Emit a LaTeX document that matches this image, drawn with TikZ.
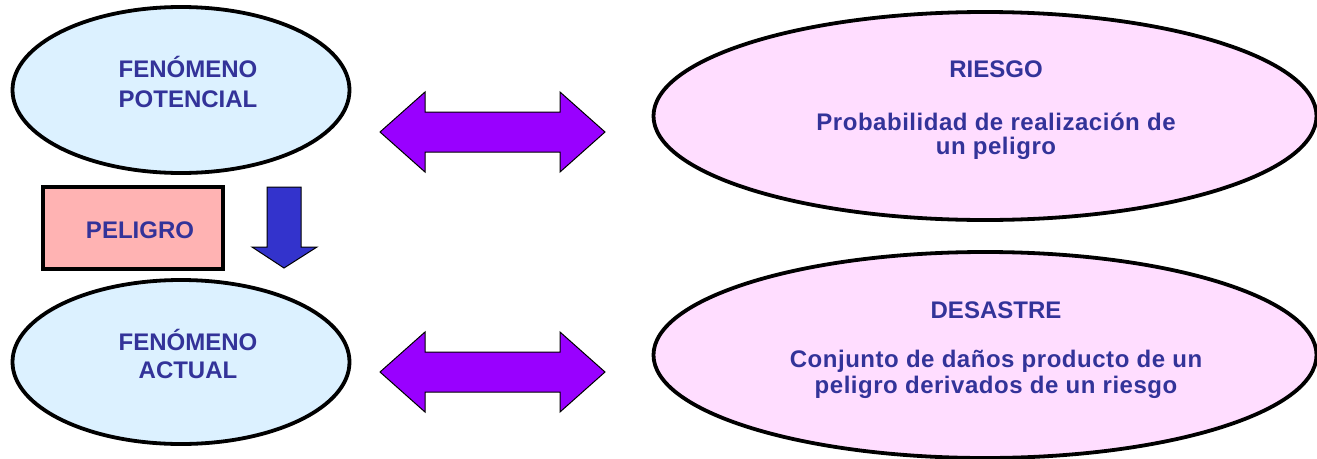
\documentclass[tikz,border=0pt]{standalone}
\usepackage{fontspec}
\setmainfont{Liberation Sans}
\usetikzlibrary{shapes.geometric}
\definecolor{txtblue}{RGB}{51,51,153}
\definecolor{lightblue}{RGB}{220,241,255}
\definecolor{lightpink}{RGB}{255,221,255}
\definecolor{salmon}{RGB}{255,179,179}
\definecolor{purplearrow}{RGB}{153,0,255}
\definecolor{bluearrow}{RGB}{51,51,204}
\tikzset{
  ellbox/.style={ellipse, draw=black, line width=3.8pt, inner sep=0pt},
  lefte/.style={ellbox, fill=lightblue},
  righte/.style={ellbox, fill=lightpink},
  rectbox/.style={draw=black, line width=3.8pt, fill=salmon, inner sep=0pt},
  lbl/.style={anchor=base, inner sep=0pt, text=txtblue, font=\fontsize{24}{29}\selectfont\bfseries},
  sent/.style={lbl, font=\fontsize{24}{29}\selectfont\bfseries\addfontfeature{LetterSpace=2.2}},
  dblarrow/.style={draw=black, line width=1pt, fill=purplearrow, line join=miter},
  downarrow/.style={draw=black, line width=1pt, fill=bluearrow, line join=miter}
}
\begin{document}
\begin{tikzpicture}[x=1pt,y=-1pt]
\useasboundingbox (0,0) rectangle (1317,458);
% ellipses
\node[lefte, minimum width=337pt, minimum height=166pt] (potencial) at (181,90) {};
\node[lefte, minimum width=337pt, minimum height=164pt] (actual) at (181,362) {};
\node[righte, minimum width=663pt, minimum height=208pt] (riesgo) at (985,116) {};
\node[righte, minimum width=663pt, minimum height=206pt] (desastre) at (985,355) {};
% rectangle
\node[rectbox, minimum width=180pt, minimum height=82pt] (peligro) at (133,228) {};
% arrows
\draw[dblarrow] (380,132) -- (425,92) -- (425,112) -- (560,112) -- (560,92) -- (605,132)
  -- (560,172) -- (560,152) -- (425,152) -- (425,172) -- cycle;
\draw[dblarrow] (380,372) -- (425,332) -- (425,352) -- (560,352) -- (560,332) -- (605,372)
  -- (560,412) -- (560,392) -- (425,392) -- (425,412) -- cycle;
\draw[downarrow] (267,187) -- (301,187) -- (301,247) -- (317,247) -- (284,268)
  -- (252,247) -- (267,247) -- cycle;
% texts
\node[lbl] (t1a) at (188,77) {FENÓMENO};
\node[lbl] (t1b) at (188,107) {POTENCIAL};
\node[lbl] (t2a) at (188,350) {FENÓMENO};
\node[lbl] (t2b) at (188,378) {ACTUAL};
\node[lbl] (t3) at (140,238) {PELIGRO};
\node[lbl] (t4a) at (996,77) {RIESGO};
\node[sent] (t4b) at (996,130) {Probabilidad de realización de};
\node[sent] (t4c) at (996,154) {un peligro};
\node[lbl] (t5a) at (996,318) {DESASTRE};
\node[sent] (t5b) at (996,367) {Conjunto de daños producto de un};
\node[sent] (t5c) at (996,393) {peligro derivados de un riesgo};
\end{tikzpicture}
\end{document}
